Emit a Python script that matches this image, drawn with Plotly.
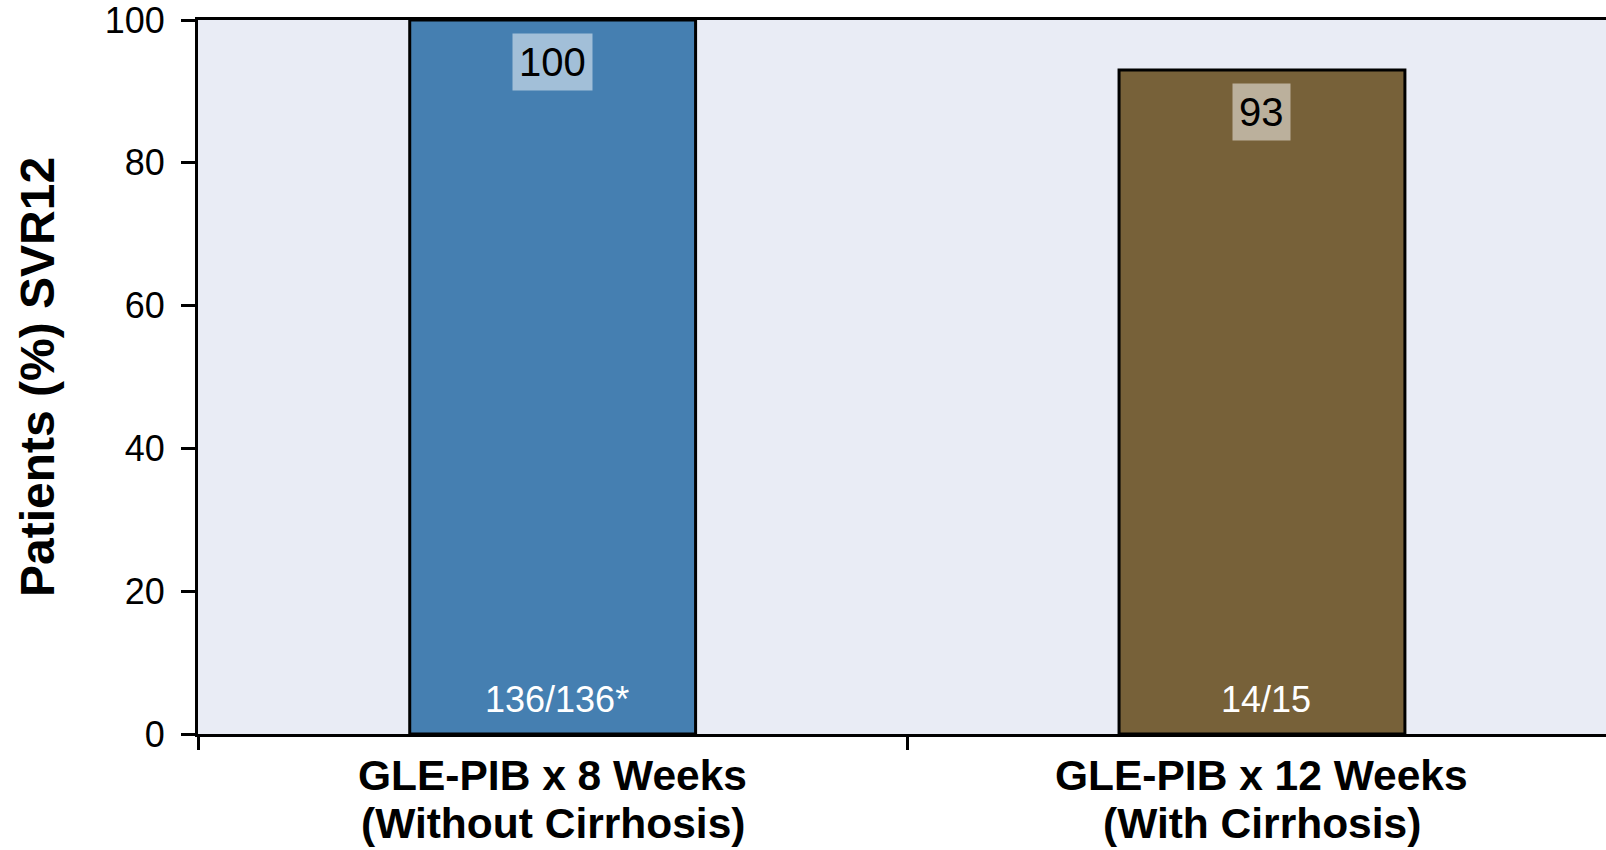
import plotly.graph_objects as go

categories = ["GLE-PIB x 8 Weeks", "GLE-PIB x 12 Weeks"]
subtitles = ["(Without Cirrhosis)", "(With Cirrhosis)"]
svr12 = [100, 93]
counts = ["136/136*", "14/15"]
bar_colors = ["#457FB1", "#776139"]
y_ticks = [0, 20, 40, 60, 80, 100]

FONT = "Liberation Sans, Arial"

fig = go.Figure()
fig.add_trace(go.Bar(
    x=categories, y=svr12,
    marker=dict(color=bar_colors, line=dict(color="#000000", width=3)),
    width=0.403,
    showlegend=False,
    hoverinfo="skip",
))

annotations = []
for cat, v in zip(categories, svr12):
    annotations.append(dict(
        x=cat, y=v, xref="x", yref="y", yanchor="top", yshift=-13,
        text=str(v), showarrow=False,
        font=dict(family=FONT, size=40, color="#000000"),
        bgcolor="rgba(255,255,255,0.5)", borderpad=6,
    ))
for cat, c in zip(categories, counts):
    annotations.append(dict(
        x=cat, y=0, xref="x", yref="y", yanchor="bottom", yshift=12, xshift=4,
        text=c, showarrow=False,
        font=dict(family=FONT, size=36, color="#FFFFFF"),
    ))
for cat, sub in zip(categories, subtitles):
    annotations.append(dict(
        x=cat, y=-0.0587, xref="x", yref="paper", yanchor="middle",
        text="<b>" + cat + "</b>", showarrow=False,
        font=dict(family=FONT, size=42.5, color="#000000"),
    ))
    annotations.append(dict(
        x=cat, y=-0.1257, xref="x", yref="paper", yanchor="middle",
        text="<b>" + sub + "</b>", showarrow=False,
        font=dict(family=FONT, size=42.5, color="#000000"),
    ))

fig.update_layout(
    width=1606, height=850,
    margin=dict(l=198, r=0, t=18, b=116, pad=0),
    paper_bgcolor="#FFFFFF",
    plot_bgcolor="#E9ECF5",
    annotations=annotations,
    xaxis=dict(
        range=[-0.5, 1.485],
        showticklabels=False, tickson="boundaries", ticks="outside",
        ticklen=13, tickwidth=3, tickcolor="#000000",
        showline=True, linecolor="#000000", linewidth=3, mirror=True,
        showgrid=False, zeroline=False,
    ),
    yaxis=dict(
        range=[0, 100], tickvals=y_ticks, ticks="outside",
        ticklen=14, tickwidth=3, tickcolor="#000000",
        tickfont=dict(family=FONT, size=36, color="#000000"),
        ticklabelstandoff=9, ticklabeloverflow="allow",
        showline=True, linecolor="#000000", linewidth=3, mirror=False,
        showgrid=False, zeroline=False,
        title=dict(text="<b>Patients (%) SVR12</b>",
                   font=dict(family=FONT, size=48, color="#000000"),
                   standoff=35),
    ),
)

fig.write_html(
    "out.html",
    config={"displayModeBar": False},
    post_script="document.body.style.margin='0';document.body.style.overflow='hidden';",
)
